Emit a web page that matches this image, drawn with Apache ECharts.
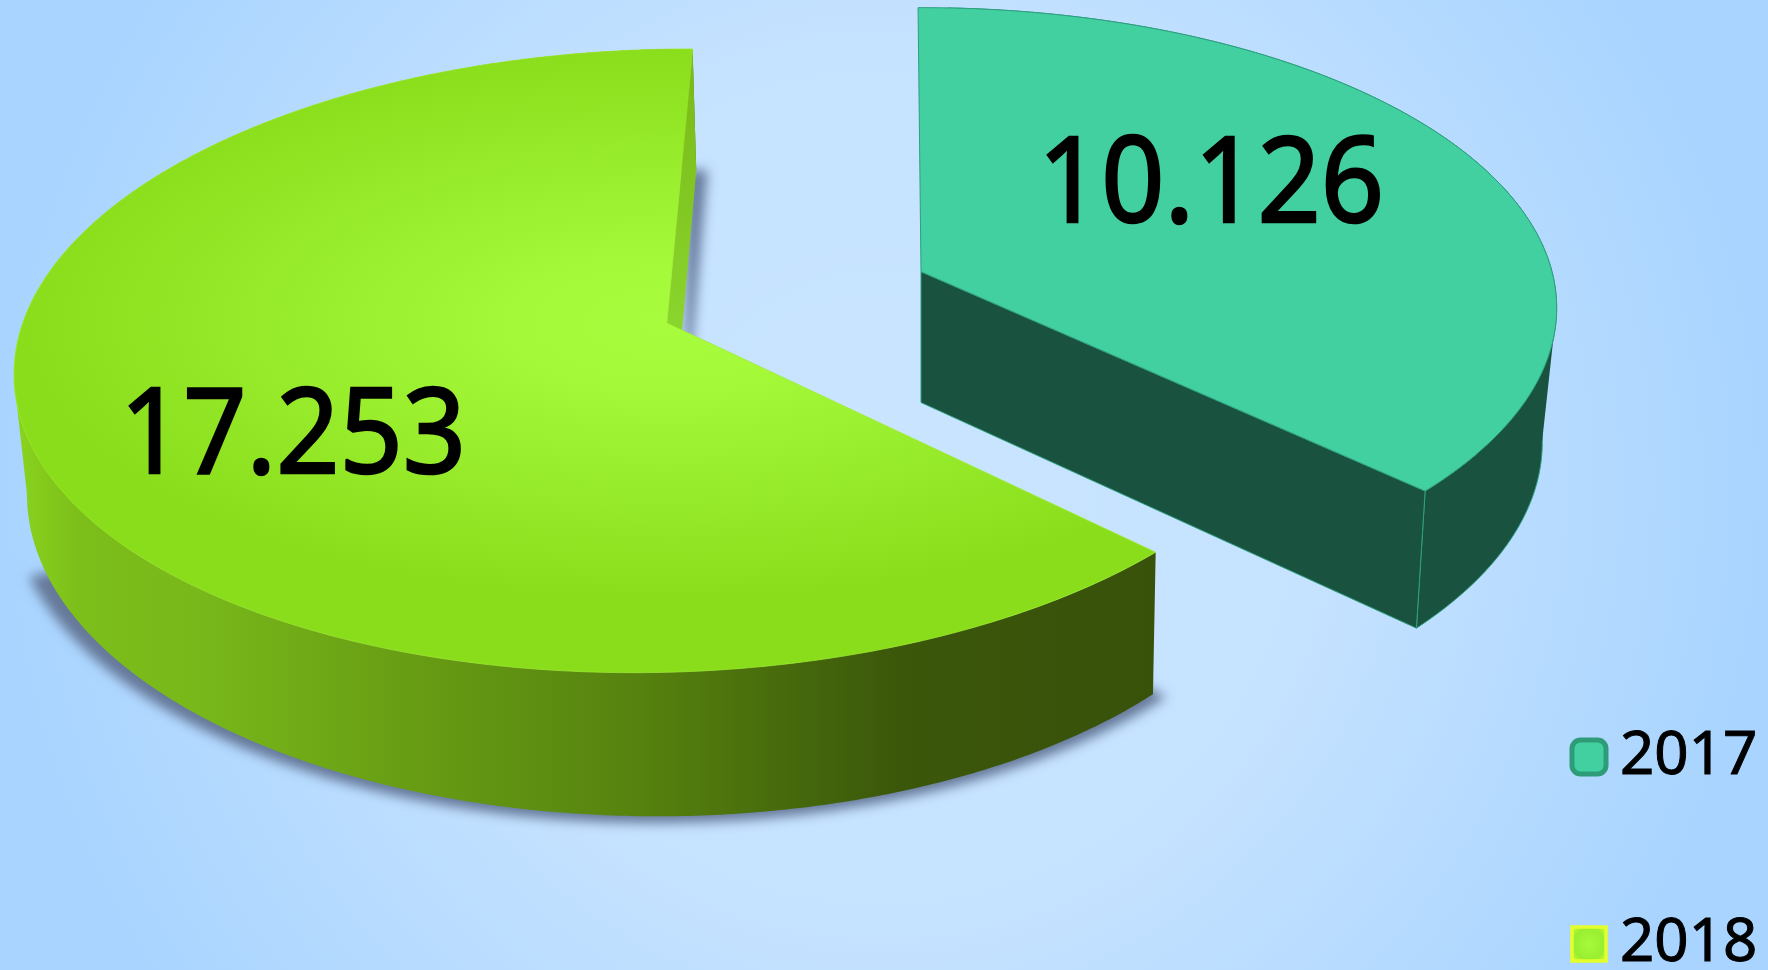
<!DOCTYPE html>
<html><head><meta charset="utf-8">
<style>html,body{margin:0;padding:0;background:#b8dbff}#c{width:1768px;height:970px}</style>
<script src="https://cdn.jsdelivr.net/npm/echarts@6/dist/echarts.min.js"></script>
</head><body><div id="c"></div>
<script>
const categories = ['2017', '2018'];
const values = [10.126, 17.253];
const startAngles = [-0.3, 135.7];

const FONT = '"Noto Sans",sans-serif';
const total = values.reduce((a, b) => a + b, 0);
const layouts = {
  '2017': {
    top: {cx: 921, cy: 271.7, rx: 631, ry: 296, p: .121, q: 0, s: 0},
    bottom: {cx: 921, cy: 402.5, rx: 616, ry: 302.5, p: .13, q: 0, s: 0},
    hull: [97, 97, 125],
    label: [1211, 188]
  },
  '2018': {
    top: {cx: 667, cy: 323, rx: 643, ry: 307, p: .121, q: .008, s: -13},
    bottom: {cx: 672, cy: 445, rx: 625, ry: 316, p: .1487, q: .02, s: 0},
    shadow: {cx: 670, cy: 447, rx: 640, ry: 320, p: .1487, q: .02, s: 0},
    shadowEnd: 248,
    shadowBack: {cx: 683, cy: 445, rx: 625, ry: 316, p: .1487, q: .02, s: 0},
    hull: [262, 255, 230],
    label: [293, 439]
  }
};
function project(f, deg, r) {
  const t = deg * Math.PI / 180, u = r * Math.sin(t), v = -r * Math.cos(t);
  const w = 1 - f.p * v + f.q * u;
  return [f.cx + f.rx * u / w, f.cy + f.ry * v / w + f.s * u / w];
}
function arc(f, a0, a1) {
  const pts = [], n = Math.ceil(Math.abs(a1 - a0) * 2);
  for (let i = 0; i <= n; i++) pts.push(project(f, a0 + (a1 - a0) * i / n, 1));
  return pts;
}
const poly = (points, style, extra) => Object.assign({type: 'polygon', silent: true, shape: {points}, style}, extra || {});
const linear = (stops) => ({type: 'linear', x: 0, y: 0, x2: 1768, y2: 0, global: true,
  colorStops: stops.map(s => ({offset: s[0] / 1768, color: s[1]}))});

function renderSlice(index, params, api) {
  const name = categories[index], L = layouts[name], value = api.value(0);
  const a0 = startAngles[index], a1 = a0 + value / total * 360;
  const topArc = arc(L.top, a0, a1), botArc = arc(L.bottom, a0, a1);
  const A = [L.top.cx, L.top.cy], B = [L.bottom.cx, L.bottom.cy];
  const hull = [project(L.top, L.hull[0], 1), project(L.bottom, L.hull[1], 1),
    project(L.bottom, L.hull[2], 1), project(L.top, L.hull[2], 1)];
  const children = [];
  if (name === '2018') {
    const shadowStyle = {fill: '#000', shadowBlur: 12, shadowColor: '#66799a', shadowOffsetX: 3000};
    const off = {x: -3000};
    children.push(poly([[L.shadow.cx, L.shadow.cy]].concat(arc(L.shadow, a0 - .5, L.shadowEnd)), shadowStyle, off));
    children.push(poly([[L.shadowBack.cx, L.shadowBack.cy]].concat(arc(L.shadowBack, a1 - 2, a1)), shadowStyle, off));
    const wallFill = linear([[15, '#8ad41e'], [80, '#7cbe1a'], [200, '#78b81a'], [400, '#689e14'],
      [640, '#56820f'], [900, '#3b570a'], [1160, '#38520a']]);
    children.push(poly(topArc.concat(botArc.slice().reverse()), {fill: wallFill}));
    children.push(poly(hull, {fill: wallFill}));
    children.push(poly([A, topArc[topArc.length - 1], botArc[botArc.length - 1], B], {
      fill: {type: 'linear', x: 0, y: 50, x2: 0, y2: 330, global: true,
        colorStops: [{offset: 0, color: '#78b816'}, {offset: 1, color: '#8ad52e'}]}
    }));
    const sy = L.top.ry / L.top.rx * 0.9;
    const local = [A].concat(topArc).map(p => [p[0] - A[0], (p[1] - A[1]) / sy]);
    children.push(poly(local, {
      fill: {type: 'radial', x: 0, y: 0, r: 650, global: true, colorStops: [
        {offset: 0, color: '#a7fc3d'}, {offset: .2, color: '#a5fa3a'}, {offset: 1, color: '#89dd1b'}]},
      stroke: '#9eec2a', lineWidth: 1, strokeNoScale: true
    }, {x: A[0], y: A[1], scaleY: sy}));
  } else {
    const dark = {fill: '#19523f', stroke: '#2f9f80', lineWidth: 1};
    children.push(poly(topArc.slice(6).concat(botArc.slice(6).reverse()), dark));
    children.push(poly(hull, {fill: '#19523f'}));
    const tt = topArc[topArc.length - 1], bt = botArc[botArc.length - 1];
    children.push(poly([A, tt, bt, B], dark));
    children.push(poly([A].concat(topArc), {fill: '#42d0a0', stroke: '#2f9f80', lineWidth: 1}));
  }
  children.push({type: 'text', silent: true, x: L.label[0], y: L.label[1], scaleX: .93, style: {
    text: value.toFixed(3), font: '119px ' + FONT, fill: '#000', stroke: '#000', lineWidth: 2.5,
    align: 'center', verticalAlign: 'middle'
  }});
  return {type: 'group', children};
}

const chart = echarts.init(document.getElementById('c'), null, {renderer: 'canvas'});
chart.setOption({
  animation: false,
  backgroundColor: {type: 'radial', x: .5, y: .5, r: .92, colorStops: [
    {offset: 0, color: '#c9e5ff'}, {offset: .5, color: '#c5e2ff'}, {offset: 1, color: '#a8d4ff'}]},
  legend: {
    orient: 'vertical', left: 1569.5, top: 726.5, height: 400, itemGap: 126, itemWidth: 34, itemHeight: 34,
    selectedMode: false, padding: 0,
    textStyle: {fontFamily: FONT, fontSize: 60, lineHeight: 40, color: '#000', padding: [0, 0, 0, 9],
      textBorderColor: '#000', textBorderWidth: 1},
    data: [
      {name: '2017', icon: 'roundRect', itemStyle: {color: '#42d0a0', borderColor: '#2e9c78', borderWidth: 5}},
      {name: '2018', icon: 'rect', itemStyle: {
        color: {type: 'radial', x: .5, y: .5, r: .6, colorStops: [{offset: 0, color: '#a6fb3c'}, {offset: .7, color: '#98ee30'}, {offset: 1, color: '#d0fa2c'}]},
        borderColor: '#e4ff2c', borderWidth: 3.5}}
    ]
  },
  series: categories.map((name, i) => ({
    type: 'custom', name, coordinateSystem: 'none',
    itemStyle: {color: i ? '#a6fb3c' : '#42d0a0'},
    data: [[values[i]]],
    renderItem: (params, api) => renderSlice(i, params, api)
  }))
});
</script></body></html>
